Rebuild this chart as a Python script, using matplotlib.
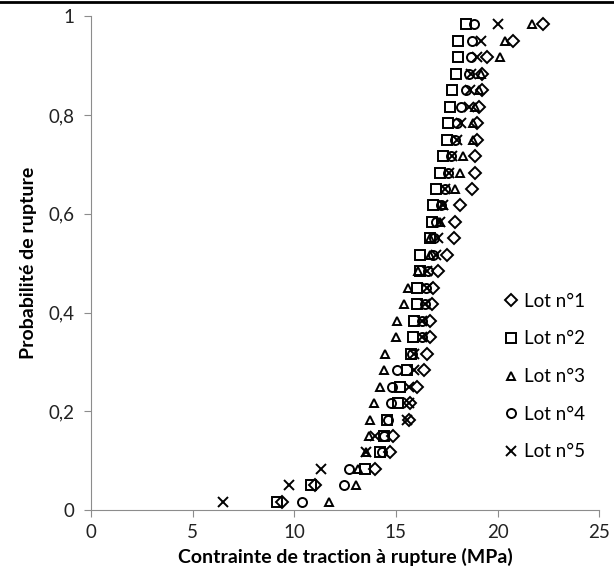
import matplotlib
matplotlib.use("Agg")
import matplotlib.pyplot as plt
from matplotlib.lines import Line2D
import numpy as np

# contrainte a rupture (MPa), triee, 30 eprouvettes par lot
lot1 = [9.38, 11.02, 13.95, 14.71, 14.87, 15.66, 15.69, 16.02, 16.38, 16.55,
        16.68, 16.68, 16.78, 16.80, 17.08, 17.50, 17.88, 17.90, 18.15, 18.72,
        18.89, 18.89, 18.97, 19.00, 19.10, 19.25, 19.25, 19.48, 20.77, 22.25]
lot2 = [9.16, 10.84, 13.50, 14.21, 14.42, 14.54, 15.11, 15.20, 15.55, 15.75,
        15.86, 15.88, 16.02, 16.05, 16.18, 16.18, 16.68, 16.78, 16.84, 16.95,
        17.15, 17.33, 17.52, 17.58, 17.66, 17.78, 17.97, 18.03, 18.05, 18.45]
lot3 = [11.72, 13.05, 13.16, 13.52, 13.70, 13.72, 13.90, 14.21, 14.42, 14.46,
        15.00, 15.04, 15.40, 15.61, 16.10, 16.70, 16.70, 17.17, 17.33, 17.90,
        18.15, 18.31, 18.77, 18.77, 18.90, 19.07, 19.20, 20.10, 20.35, 21.68]
lot4 = [10.36, 12.43, 12.67, 14.30, 14.40, 14.60, 14.78, 14.82, 15.04, 15.80,
        16.27, 16.27, 16.45, 16.50, 16.60, 16.80, 16.85, 16.95, 17.20, 17.40,
        17.55, 17.70, 17.90, 17.99, 18.18, 18.45, 18.60, 18.70, 18.76, 18.85]
lot5 = [6.51, 9.73, 11.30, 13.55, 13.99, 15.53, 15.62, 15.65, 15.88, 15.88,
        16.27, 16.30, 16.45, 16.55, 16.55, 16.95, 17.08, 17.17, 17.33, 17.42,
        17.60, 17.75, 18.00, 18.20, 18.60, 18.65, 18.70, 19.00, 19.18, 20.00]

labels = ["Lot n°1", "Lot n°2", "Lot n°3", "Lot n°4", "Lot n°5"]
markers = ["D", "s", "^", "o", "x"]
sizes = [6, 6.5, 6, 6.5, 6.5]

# probabilite de rupture (rang - 0,5) / n
n = len(lot1)
proba = (np.arange(1, n + 1) - 0.5) / n

plt.rcParams['font.family'] = ['Lato', 'DejaVu Sans']

fig = plt.figure(figsize=(6.14, 5.77), dpi=100)
ax = fig.add_axes([0.148, 0.116, 0.828, 0.856])

for data, lab, m, s in zip([lot1, lot2, lot3, lot4, lot5], labels, markers, sizes):
    if m == "x":
        ax.plot(data, proba, linestyle="none", marker=m, markersize=s,
                color="black", markeredgewidth=1.4, label=lab)
    else:
        ax.plot(data, proba, linestyle="none", marker=m, markersize=s,
                markerfacecolor="none", markeredgecolor="black",
                markeredgewidth=1.4, label=lab)

ax.set_xlim(0, 25)
ax.set_ylim(0, 1)
ax.set_xticks([0, 5, 10, 15, 20, 25])
ax.set_yticks([0, 0.2, 0.4, 0.6, 0.8, 1])
ax.set_yticklabels(["0", "0,2", "0,4", "0,6", "0,8", "1"])

for side in ["top", "right"]:
    ax.spines[side].set_visible(False)
for side in ["left", "bottom"]:
    ax.spines[side].set_color("#8c8c8c")
ax.tick_params(direction="out", length=5, color="#8c8c8c", labelsize=13.5,
               labelcolor="#222222")
ax.tick_params(axis="x", pad=5)
ax.tick_params(axis="y", pad=7)

ax.set_xlabel("Contrainte de traction à rupture (MPa)", fontsize=14,
              fontweight="bold", labelpad=5)
ax.set_ylabel("Probabilité de rupture", fontsize=14, fontweight="bold",
              labelpad=8)

ax.legend(loc="upper left", bbox_to_anchor=(0.79, 0.455), frameon=False,
          fontsize=13.5, labelspacing=1.1, handletextpad=0.1,
          handlelength=1.2, borderaxespad=0)

fig.add_artist(Line2D([0, 1], [0.997, 0.997], color="black", lw=2))

fig.savefig("out.png", dpi=100)
